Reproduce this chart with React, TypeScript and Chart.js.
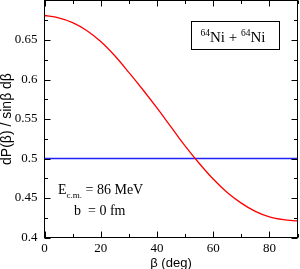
import React, { useEffect, useRef } from 'react';
import { Chart, registerables } from 'chart.js';

Chart.register(...registerables);

// Data
const betaDeg = [0, 5, 10, 15, 20, 25, 30, 35, 40, 45, 50, 55, 60, 65, 70, 75, 80, 85, 90];
const dPValues = [0.681, 0.678, 0.672, 0.662, 0.648, 0.630, 0.609, 0.587, 0.564, 0.540, 0.516, 0.494, 0.474, 0.457, 0.4435, 0.433, 0.426, 0.4225, 0.421];
const isoBeta = [0, 90];
const isoValues = [0.5, 0.5];

const xMajorTicks = [0, 20, 40, 60, 80];
const xMinorTicks = [10, 30, 50, 70, 90];
const yMajorTicks = [0.4, 0.45, 0.5, 0.55, 0.6, 0.65];
const yMinorTicks = [0.425, 0.475, 0.525, 0.575, 0.625, 0.675];

const xTitle = 'β (deg)';
const yTitle = 'dP(β) / sinβ dβ';
const systemLabel = { mass: '64', element: 'Ni' };
const energyLine = { main: 'E', sub: 'c.m.', rest: ' = 86 MeV' };
const impactLine = 'b  = 0 fm';

const SERIF = '"Liberation Serif", "Times New Roman", serif';
const SANS = '"Liberation Sans", Arial, sans-serif';

const framePlugin = {
  id: 'framePlugin',
  afterDraw(chart: any) {
    const { ctx, chartArea, scales } = chart;
    const { left, right, top, bottom } = chartArea;
    const xs = scales.x;
    const ys = scales.y;
    ctx.save();
    ctx.strokeStyle = '#000';
    ctx.lineWidth = 1;
    ctx.strokeRect(left, top, right - left, bottom - top);

    const major = 6;
    const minor = 3.5;
    ctx.beginPath();
    const xt = (vals: number[], len: number) => {
      vals.forEach((v) => {
        const px = Math.round(xs.getPixelForValue(v)) + 0.5;
        ctx.moveTo(px, bottom);
        ctx.lineTo(px, bottom - len);
        ctx.moveTo(px, top);
        ctx.lineTo(px, top + len);
      });
    };
    const yt = (vals: number[], len: number) => {
      vals.forEach((v) => {
        const py = Math.round(ys.getPixelForValue(v)) + 0.5;
        ctx.moveTo(left, py);
        ctx.lineTo(left + len, py);
        ctx.moveTo(right, py);
        ctx.lineTo(right - len, py);
      });
    };
    xt(xMajorTicks, major);
    xt(xMinorTicks, minor);
    yt(yMajorTicks, major);
    yt(yMinorTicks, minor);
    ctx.stroke();

    // axis titles
    ctx.fillStyle = '#000';
    ctx.font = `13px ${SANS}`;
    ctx.textAlign = 'center';
    ctx.textBaseline = 'alphabetic';
    ctx.fillText(xTitle, (left + right) / 2, 267);

    ctx.save();
    ctx.translate(11, (top + bottom) / 2);
    ctx.rotate(-Math.PI / 2);
    ctx.font = `14px ${SANS}`;
    ctx.fillText(yTitle, 0, 0);
    ctx.restore();

    // legend box
    ctx.strokeRect(191.5, 21.5, 88, 28);
    ctx.textAlign = 'left';
    let x = 200.5;
    const base = 41.5;
    const drawSup = (t: string) => {
      ctx.font = `9.5px ${SERIF}`;
      ctx.fillText(t, x, base - 6);
      x += ctx.measureText(t).width;
    };
    const drawMain = (t: string) => {
      ctx.font = `15px ${SERIF}`;
      ctx.fillText(t, x, base);
      x += ctx.measureText(t).width;
    };
    drawSup(systemLabel.mass);
    drawMain(systemLabel.element + ' + ');
    drawSup(systemLabel.mass);
    drawMain(systemLabel.element);

    // annotation
    x = 58;
    ctx.font = `14px ${SERIF}`;
    ctx.fillText(energyLine.main, x, 194);
    x += ctx.measureText(energyLine.main).width;
    ctx.font = `9px ${SERIF}`;
    ctx.fillText(energyLine.sub, x, 198);
    x += ctx.measureText(energyLine.sub).width;
    ctx.font = `14px ${SERIF}`;
    ctx.fillText(energyLine.rest, x, 194);
    ctx.fillText(impactLine, 74, 215);
    ctx.restore();
  },
};

const zeroPad = (s: any) => {
  s.paddingTop = 0;
  s.paddingBottom = 0;
  s.paddingLeft = 0;
  s.paddingRight = 0;
};

export default function App() {
  const ref = useRef<HTMLCanvasElement | null>(null);
  useEffect(() => {
    if (!ref.current) return;
    const chart = new Chart(ref.current, {
      type: 'line',
      data: {
        datasets: [
          {
            data: betaDeg.map((b, i) => ({ x: b, y: dPValues[i] })),
            borderColor: '#ff0000',
            borderWidth: 1.3,
            pointRadius: 0,
            cubicInterpolationMode: 'monotone',
            fill: false,
          },
          {
            data: isoBeta.map((b, i) => ({ x: b, y: isoValues[i] })),
            borderColor: '#2222ff',
            borderWidth: 1.5,
            pointRadius: 0,
            fill: false,
          },
        ],
      },
      options: {
        animation: false,
        responsive: false,
        maintainAspectRatio: false,
        layout: { padding: { top: 0.5, right: 2.5, left: 0, bottom: 0 } },
        plugins: { legend: { display: false }, tooltip: { enabled: false }, title: { display: false } },
        scales: {
          x: {
            type: 'linear',
            min: 0,
            max: 90,
            grid: { display: false, drawTicks: false, tickLength: 0 },
            border: { display: false },
            afterFit: (s: any) => { s.height = 31.5; zeroPad(s); },
            afterBuildTicks: (s: any) => { s.ticks = xMajorTicks.map((v) => ({ value: v })); },
            ticks: {
              color: '#000',
              padding: 3,
              maxRotation: 0,
              font: { family: SERIF, size: 13 },
              callback: (v: any) => String(v),
            },
          },
          y: {
            type: 'linear',
            min: 0.4,
            max: 0.7,
            grid: { display: false, drawTicks: false, tickLength: 0 },
            border: { display: false },
            afterFit: (s: any) => { s.width = 44.5; zeroPad(s); },
            afterBuildTicks: (s: any) => { s.ticks = yMajorTicks.map((v) => ({ value: v })); },
            ticks: {
              color: '#000',
              padding: 7,
              font: { family: SERIF, size: 13 },
              callback: (v: any) => String(Math.round(v * 1000) / 1000),
            },
          },
        },
      },
      plugins: [framePlugin],
    });
    return () => chart.destroy();
  }, []);
  return (
    <div style={{ position: 'fixed', left: 0, top: 0, width: 300, height: 269, background: '#fff' }}>
      <canvas ref={ref} width={300} height={269} style={{ width: 300, height: 269, display: 'block' }} />
    </div>
  );
}
